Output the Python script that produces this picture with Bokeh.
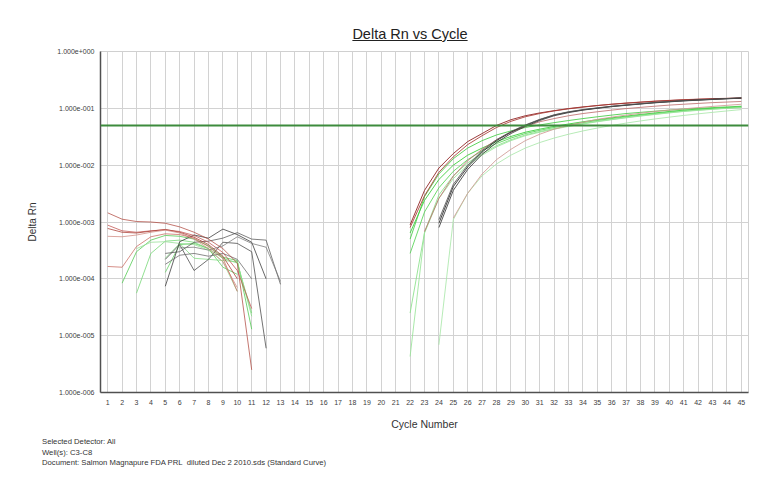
from bokeh.plotting import figure
from bokeh.models import (FixedTicker, CustomJSTickFormatter, Span, Div, ColumnDataSource)
from bokeh.layouts import column
from bokeh.embed import file_html
from bokeh.resources import INLINE

# ---------------- data ----------------
cycles_ticks = list(range(1, 46))
ytick_values = [1.0, 1e-1, 1e-2, 1e-3, 1e-4, 1e-5, 1e-6]
ytick_labels = ["1.000e+000", "1.000e-001", "1.000e-002", "1.000e-003",
                "1.000e-004", "1.000e-005", "1.000e-006"]
threshold = 0.05

# early-cycle background noise (start cycle, values)
noise_red_starts = [1, 1, 1, 1, 1]
noise_red = [
    [1.45e-3, 1.12e-3, 1.02e-3, 1.0e-3, 9.5e-4, 8.2e-4, 6.6e-4, 5.0e-4, 3.4e-4, 1.9e-4, 2.5e-6],
    [8.8e-4, 7.0e-4, 6.6e-4, 7.0e-4, 7.3e-4, 6.8e-4, 5.8e-4, 4.4e-4, 2.9e-4, 1.4e-4, 3.0e-5],
    [7.7e-4, 6.6e-4, 6.4e-4, 6.9e-4, 7.4e-4, 6.6e-4, 5.4e-4, 4.0e-4, 2.5e-4, 1.0e-4],
    [5.6e-4, 5.5e-4, 5.9e-4, 6.6e-4, 7.2e-4, 6.4e-4, 5.0e-4, 3.4e-4, 2.0e-4, 7.0e-5],
    [1.65e-4, 1.6e-4, 3.7e-4, 5.5e-4, 6.2e-4, 6.0e-4, 5.2e-4, 3.7e-4, 2.3e-4, 6.0e-5],
]
noise_green_starts = [2, 3, 3, 5, 5]
noise_green = [
    [8.4e-5, 3.0e-4, 4.8e-4, 5.8e-4, 5.6e-4, 5.0e-4, 3.8e-4, 2.4e-4, 2.1e-4, 1.3e-5],
    [5.6e-5, 2.8e-4, 4.6e-4, 4.8e-4, 4.4e-4, 3.4e-4, 2.3e-4, 1.9e-4, 2.5e-5],
    [3.4e-4, 4.4e-4, 4.5e-4, 4.2e-4, 4.0e-4, 3.2e-4, 2.0e-4, 6.0e-5],
    [1.3e-4, 4.0e-4, 4.2e-4, 3.4e-4, 1.6e-4, 1.2e-4],
    [2.3e-4, 4.2e-4, 2.3e-4, 2.2e-4, 2.1e-4, 2.0e-4, 2.2e-5],
]
noise_black_starts = [5, 5, 5, 6, 5]
noise_black = [
    [7.4e-5, 4.5e-4, 5.9e-4, 5.2e-4, 7.5e-4, 6.0e-4, 4.4e-4, 1.0e-4],
    [2.8e-4, 3.0e-4, 4.4e-4, 4.6e-4, 5.2e-4, 6.5e-4, 5.0e-4, 4.8e-4, 8.0e-5],
    [2.2e-4, 4.0e-4, 1.4e-4, 2.2e-4, 4.4e-4, 4.2e-4, 3.0e-4, 6.0e-6],
    [3.5e-4, 3.6e-4, 3.2e-4, 3.8e-4, 5.5e-4, 4.2e-4, 3.6e-4, 9.0e-5],
    [1.8e-4, 2.6e-4, 2.8e-4, 2.5e-4, 2.8e-4, 2.2e-4, 1.0e-4],
]

# amplification curves (start cycle, values)
amp_red_starts = [22, 22, 23, 25]
amp_red = [
    [8.9e-4, 3.6e-3, 8.9e-3, 1.6e-2, 2.6e-2, 3.6e-2, 5.0e-2, 6.3e-2, 7.4e-2, 8.3e-2, 9.1e-2, 9.9e-2,
     0.106, 0.112, 0.118, 0.123, 0.128, 0.133, 0.137, 0.141, 0.144, 0.147, 0.149, 0.151],
    [8.0e-4, 2.9e-3, 7.5e-3, 1.4e-2, 2.3e-2, 3.3e-2, 4.6e-2, 5.9e-2, 7.1e-2, 8.1e-2, 9.0e-2, 9.8e-2,
     0.105, 0.112, 0.118, 0.124, 0.129, 0.134, 0.138, 0.142, 0.145, 0.148, 0.150, 0.152],
    [6.8e-4, 2.6e-3, 6.4e-3, 1.2e-2, 1.9e-2, 2.8e-2, 3.8e-2, 4.8e-2, 5.8e-2, 6.6e-2, 7.4e-2, 8.1e-2,
     8.7e-2, 9.3e-2, 9.9e-2, 0.104, 0.109, 0.114, 0.118, 0.122, 0.126, 0.129, 0.132],
    [1.17e-3, 3.2e-3, 7.0e-3, 1.25e-2, 1.9e-2, 2.7e-2, 3.5e-2, 4.3e-2, 5.0e-2, 5.7e-2, 6.4e-2, 7.0e-2,
     7.6e-2, 8.2e-2, 8.8e-2, 9.3e-2, 9.8e-2, 0.103, 0.108, 0.113, 0.118],
]
amp_black_starts = [24, 24, 24]
amp_black = [
    [9.5e-4, 4.2e-3, 9.3e-3, 1.7e-2, 2.7e-2, 3.8e-2, 5.0e-2, 6.3e-2, 7.6e-2, 8.6e-2, 9.4e-2, 0.101,
     0.108, 0.114, 0.120, 0.126, 0.131, 0.136, 0.140, 0.144, 0.148, 0.152],
    [8.0e-4, 3.6e-3, 8.4e-3, 1.55e-2, 2.5e-2, 3.6e-2, 4.8e-2, 6.1e-2, 7.4e-2, 8.4e-2, 9.3e-2, 0.100,
     0.107, 0.113, 0.119, 0.125, 0.130, 0.135, 0.139, 0.143, 0.147, 0.151],
    [1.1e-3, 4.6e-3, 1.0e-2, 1.8e-2, 2.8e-2, 3.9e-2, 5.1e-2, 6.4e-2, 7.7e-2, 8.7e-2, 9.5e-2, 0.102,
     0.109, 0.115, 0.121, 0.127, 0.132, 0.137, 0.141, 0.145, 0.149, 0.153],
]
amp_green_starts = [22, 22, 22, 22, 24, 22]
amp_green = [
    [6.4e-4, 2.4e-3, 5.6e-3, 1.0e-2, 1.5e-2, 2.0e-2, 2.6e-2, 3.2e-2, 3.8e-2, 4.3e-2, 4.8e-2, 5.3e-2,
     5.8e-2, 6.3e-2, 6.8e-2, 7.3e-2, 7.8e-2, 8.3e-2, 8.8e-2, 9.3e-2, 9.7e-2, 0.100, 0.103, 0.106],
    [2.8e-4, 1.5e-3, 4.0e-3, 7.8e-3, 1.25e-2, 1.8e-2, 2.4e-2, 3.0e-2, 3.6e-2, 4.1e-2, 4.6e-2, 5.1e-2,
     5.6e-2, 6.1e-2, 6.6e-2, 7.1e-2, 7.6e-2, 8.1e-2, 8.6e-2, 9.1e-2, 9.5e-2, 9.9e-2, 0.102, 0.105],
    [2.5e-5, 6.5e-4, 3.0e-3, 6.5e-3, 1.1e-2, 1.6e-2, 2.2e-2, 2.8e-2, 3.4e-2, 3.9e-2, 4.4e-2, 4.9e-2,
     5.4e-2, 5.9e-2, 6.4e-2, 6.9e-2, 7.4e-2, 7.9e-2, 8.4e-2, 8.9e-2, 9.3e-2, 9.7e-2, 0.101, 0.104],
    [4.3e-6, 6.4e-4, 2.6e-3, 5.8e-3, 1.0e-2, 1.5e-2, 2.1e-2, 2.7e-2, 3.3e-2, 3.8e-2, 4.3e-2, 4.8e-2,
     5.3e-2, 5.8e-2, 6.3e-2, 6.8e-2, 7.3e-2, 7.8e-2, 8.3e-2, 8.8e-2, 9.2e-2, 9.6e-2, 0.100, 0.103],
    [6.9e-6, 1.1e-3, 3.2e-3, 6.5e-3, 1.05e-2, 1.5e-2, 2.0e-2, 2.5e-2, 3.0e-2, 3.5e-2, 4.0e-2, 4.5e-2,
     5.0e-2, 5.5e-2, 6.0e-2, 6.5e-2, 7.0e-2, 7.5e-2, 8.0e-2, 8.5e-2, 9.0e-2, 9.5e-2],
    [5.0e-4, 2.8e-3, 7.0e-3, 1.3e-2, 2.0e-2, 2.7e-2, 3.4e-2, 4.0e-2, 4.6e-2, 5.1e-2, 5.6e-2, 6.1e-2,
     6.6e-2, 7.1e-2, 7.6e-2, 8.1e-2, 8.5e-2, 8.9e-2, 9.3e-2, 9.7e-2, 0.100, 0.103, 0.106, 0.109],
]

red_colors = ["#b04a40", "#c0504d", "#a83a30", "#d08a80", "#c86a60"]
green_colors = ["#55cc55", "#77d877", "#99e099", "#66d066", "#88dd88", "#44c844"]
black_colors = ["#333333", "#555555", "#444444", "#777777", "#666666"]
amp_red_colors = ["#8b1a1a", "#a83a34", "#c07070", "#d09a94"]
amp_black_colors = ["#222222", "#3a3a3a", "#555555"]
amp_green_colors = ["#33cc33", "#55d455", "#88e088", "#99e499", "#aae8aa", "#44cc44"]

FONT = "Liberation Sans"

# ---------------- figure ----------------
p = figure(output_backend="svg", toolbar_location=None,
           y_axis_type="log", x_range=(0.5, 45.5), y_range=(1e-6, 1.0),
           frame_width=648, frame_height=341,
           min_border_left=100, min_border_right=12, min_border_top=7, min_border_bottom=41,
           background_fill_color="white", border_fill_color="white")
p.outline_line_color = "#d0d0d0"

p.xaxis.ticker = FixedTicker(ticks=cycles_ticks)
p.yaxis.ticker = FixedTicker(ticks=ytick_values)
p.xgrid.ticker = FixedTicker(ticks=cycles_ticks)
p.ygrid.ticker = FixedTicker(ticks=ytick_values)
p.yaxis.formatter = CustomJSTickFormatter(
    args=dict(labels=ytick_labels),
    code="const e = Math.round(-Math.log10(tick)); return labels[e] || '';")
p.grid.grid_line_color = "#d2d2d2"
p.grid.grid_line_width = 1

for ax in (p.xaxis, p.yaxis):
    ax.axis_line_color = "#505050"
    ax.axis_line_width = 1.5
    ax.major_tick_line_color = None
    ax.minor_tick_line_color = None
    ax.major_tick_out = 0
    ax.major_tick_in = 0
    ax.minor_tick_out = 0
    ax.minor_tick_in = 0
    ax.major_label_text_font = FONT
    ax.major_label_text_font_size = "7px"
    ax.major_label_text_color = "#404040"
    ax.axis_label_text_font = FONT
    ax.axis_label_text_font_style = "normal"
    ax.axis_label_text_color = "#333333"

p.yaxis.major_label_standoff = 6
p.xaxis.major_label_standoff = 7
p.yaxis.axis_label = "Delta Rn"
p.yaxis.axis_label_text_font_size = "10px"
p.yaxis.axis_label_standoff = 16
p.xaxis.axis_label = "Cycle Number"
p.xaxis.axis_label_text_font_size = "10.5px"
p.xaxis.axis_label_standoff = 10


def draw(groups_starts, groups_vals, colors, alpha):
    for i, (s, vals) in enumerate(zip(groups_starts, groups_vals)):
        xs = list(range(s, s + len(vals)))
        src = ColumnDataSource(dict(x=xs, y=vals))
        p.line("x", "y", source=src, line_color=colors[i % len(colors)],
               line_width=1, line_alpha=alpha)


draw(noise_green_starts, noise_green, green_colors, 0.8)
draw(noise_black_starts, noise_black, black_colors, 0.75)
draw(noise_red_starts, noise_red, red_colors, 0.75)
draw(amp_green_starts, amp_green, amp_green_colors, 0.85)
draw(amp_red_starts, amp_red, amp_red_colors, 0.85)
draw(amp_black_starts, amp_black, amp_black_colors, 0.85)

p.add_layout(Span(location=threshold, dimension="width",
                  line_color="#3d8b3d", line_width=2))

title = Div(text=('<div style="box-sizing:border-box;width:760px;padding-left:60px;padding-top:26px;'
                  'text-align:center;font-family:\'Liberation Sans\',Arial,sans-serif;'
                  'font-size:14.5px;line-height:17px;color:#222;text-decoration:underline;">'
                  'Delta Rn vs Cycle</div>'),
            width=760, height=44, margin=(0, 0, 0, 0))

footer = Div(text=('<div style="box-sizing:border-box;padding-left:42px;padding-top:4px;'
                   'font-family:\'Liberation Sans\',Arial,sans-serif;font-size:7.7px;'
                   'line-height:10.5px;color:#333;white-space:nowrap;">'
                   'Selected Detector: All<br>'
                   'Well(s): C3-C8<br>'
                   'Document: Salmon Magnapure FDA PRL&nbsp; diluted Dec 2 2010.sds (Standard Curve)'
                   '</div>'),
             width=760, height=40, margin=(0, 0, 0, 0))

layout = column(title, p, footer, spacing=0)

with open("out.html", "w") as f:
    f.write(file_html(layout, INLINE))
